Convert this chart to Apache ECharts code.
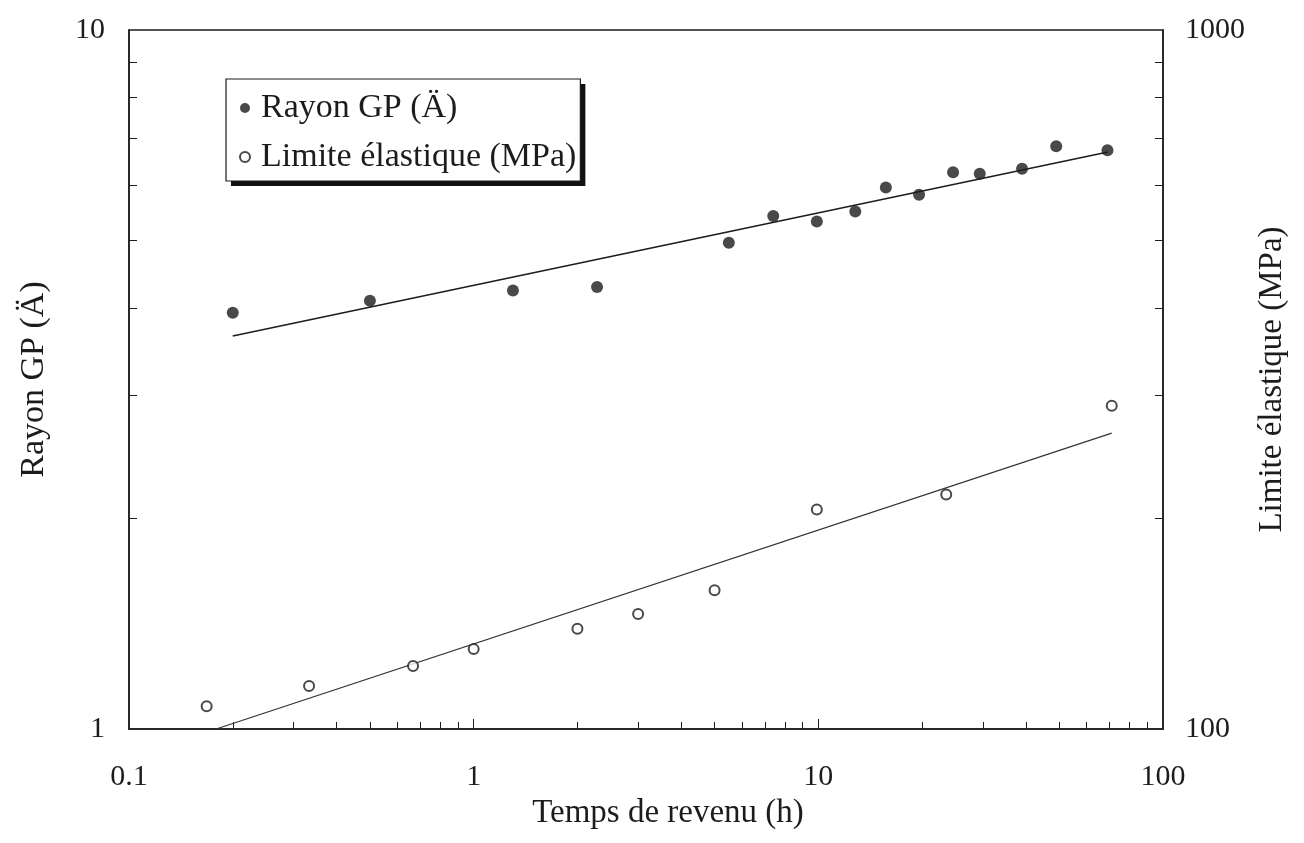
<!DOCTYPE html>
<html>
<head>
<meta charset="utf-8">
<script src="https://cdn.jsdelivr.net/npm/echarts@6/dist/echarts.min.js"></script>
<style>
html,body{margin:0;padding:0;background:#fff;}
#chart{width:1304px;height:843px;}
</style>
</head>
<body>
<div id="chart"></div>
<script>
// Rayon GP (filled dots, left axis)
const rayonTime = [0.2, 0.5, 1.3, 2.28, 5.5, 7.4, 9.9, 12.8, 15.7, 19.6, 24.6, 29.4, 39, 49, 69];
const rayonValue = [3.94, 4.10, 4.24, 4.29, 4.96, 5.42, 5.32, 5.50, 5.95, 5.81, 6.26, 6.23, 6.33, 6.82, 6.73];
// Limite élastique (open circles, right axis)
const limiteTime = [0.168, 0.333, 0.667, 1.0, 2.0, 3.0, 5.0, 9.9, 23.5, 71];
const limiteValue = [107.8, 115.2, 123.1, 130.1, 139.1, 146.0, 158.0, 206, 216.5, 290];
// fitted lines (end points)
const fitRayonTime = [0.2, 69.2];
const fitRayonValue = [3.65, 6.69];
const fitLimiteTime = [0.179, 71];
const fitLimiteValue = [100, 265];
// ticks and labels
const xMinorTicks = [0.2,0.3,0.4,0.5,0.6,0.7,0.8,0.9,2,3,4,5,6,7,8,9,20,30,40,50,60,70,80,90];
const xMajorTicks = [1, 10];
const xLabels = [0.1, 1, 10, 100];
const leftTicks = [2,3,4,5,6,7,8,9];
const leftLabels = [1, 10];
const rightTicks = [200,300,400,500,600,700,800,900];
const rightLabels = [100, 1000];

const FONT = '"Liberation Serif", "Times New Roman", serif';
const INK = '#1c1c1c';

const zip = (a, b) => a.map((v, i) => [v, b[i]]);

const legendBase = {
  left: 226, top: 79, orient: 'vertical',
  padding: [12, 4, 7, 13],
  itemGap: 15, itemWidth: 14, itemHeight: 10,
  textStyle: {fontFamily: FONT, fontSize: 34, lineHeight: 34, color: INK, padding: [0, 0, 0, 4]},
  data: ['Rayon GP (Ä)', 'Limite élastique (MPa)']
};

const chart = echarts.init(document.getElementById('chart'), null, {renderer: 'canvas'});
chart.setOption({
  animation: false,
  backgroundColor: '#fff',
  grid: {left: 129, right: 141, top: 30, bottom: 114, show: true, borderColor: INK, borderWidth: 1.5, backgroundColor: 'transparent'},
  legend: [
    Object.assign({}, legendBase, {
      backgroundColor: '#fff', borderWidth: 0,
      shadowColor: '#111', shadowOffsetX: 5, shadowOffsetY: 5, shadowBlur: 0
    }),
    Object.assign({}, legendBase, {
      backgroundColor: 'transparent', borderColor: INK, borderWidth: 1.2,
      textStyle: Object.assign({}, legendBase.textStyle, {color: 'rgba(0,0,0,0)'}),
      itemStyle: {opacity: 0}, selectedMode: false
    })
  ],
  xAxis: [{
    type: 'log', logBase: 10, min: 0.1, max: 100,
    name: 'Temps de revenu (h)', nameLocation: 'middle', nameGap: 50,
    nameTextStyle: {fontFamily: FONT, fontSize: 33, color: INK, padding: [0, 0, 0, 44]},
    axisLine: {show: true, lineStyle: {color: INK, width: 1.5}},
    axisTick: {show: true, inside: true, length: 7, customValues: xMinorTicks, lineStyle: {color: INK, width: 1}},
    axisLabel: {fontFamily: FONT, fontSize: 30, color: INK, margin: 33, customValues: xLabels,
      formatter: v => String(v)},
    splitLine: {show: false}, minorTick: {show: false}
  }, {
    type: 'log', logBase: 10, min: 0.1, max: 100, position: 'bottom',
    axisLine: {show: false},
    axisTick: {show: true, inside: true, length: 10, customValues: xMajorTicks, lineStyle: {color: INK, width: 1}},
    axisLabel: {show: false}, splitLine: {show: false}
  }],
  yAxis: [{
    type: 'log', logBase: 10, min: 1, max: 10, position: 'left',
    name: 'Rayon GP (Ä)', nameLocation: 'middle', nameGap: 78, nameRotate: 90,
    nameTextStyle: {fontFamily: FONT, fontSize: 34, color: INK, padding: [0, 0, 0, 0]},
    axisLine: {show: true, lineStyle: {color: INK, width: 1.5}},
    axisTick: {show: true, inside: true, length: 8, customValues: leftTicks, lineStyle: {color: INK, width: 1}},
    axisLabel: {fontFamily: FONT, fontSize: 30, color: INK, margin: 24, customValues: leftLabels,
      formatter: v => String(v)},
    splitLine: {show: false}
  }, {
    type: 'log', logBase: 10, min: 100, max: 1000, position: 'right',
    name: 'Limite élastique (MPa)', nameLocation: 'middle', nameGap: 90, nameRotate: 90,
    nameTextStyle: {fontFamily: FONT, fontSize: 33, color: INK},
    axisLine: {show: true, lineStyle: {color: INK, width: 1.5}},
    axisTick: {show: true, inside: true, length: 8, customValues: rightTicks, lineStyle: {color: INK, width: 1}},
    axisLabel: {fontFamily: FONT, fontSize: 30, color: INK, margin: 22, customValues: rightLabels,
      formatter: v => String(v)},
    splitLine: {show: false}
  }],
  series: [{
    name: 'Rayon GP (Ä)', type: 'scatter', xAxisIndex: 0, yAxisIndex: 0,
    symbol: 'circle', symbolSize: 12,
    itemStyle: {color: INK},
    data: zip(rayonTime, rayonValue), z: 5
  }, {
    name: 'Limite élastique (MPa)', type: 'scatter', xAxisIndex: 0, yAxisIndex: 1,
    symbol: 'circle', symbolSize: 10,
    itemStyle: {color: '#fff', borderColor: INK, borderWidth: 2},
    data: zip(limiteTime, limiteValue), z: 5
  }, {
    name: 'fit1', type: 'line', xAxisIndex: 0, yAxisIndex: 0,
    showSymbol: false, symbol: 'none', silent: true,
    lineStyle: {color: INK, width: 1.5},
    data: zip(fitRayonTime, fitRayonValue), z: 3
  }, {
    name: 'fit2', type: 'line', xAxisIndex: 0, yAxisIndex: 1,
    showSymbol: false, symbol: 'none', silent: true,
    lineStyle: {color: '#333', width: 1.2},
    data: zip(fitLimiteTime, fitLimiteValue), z: 3
  }]
});
</script>
</body>
</html>
